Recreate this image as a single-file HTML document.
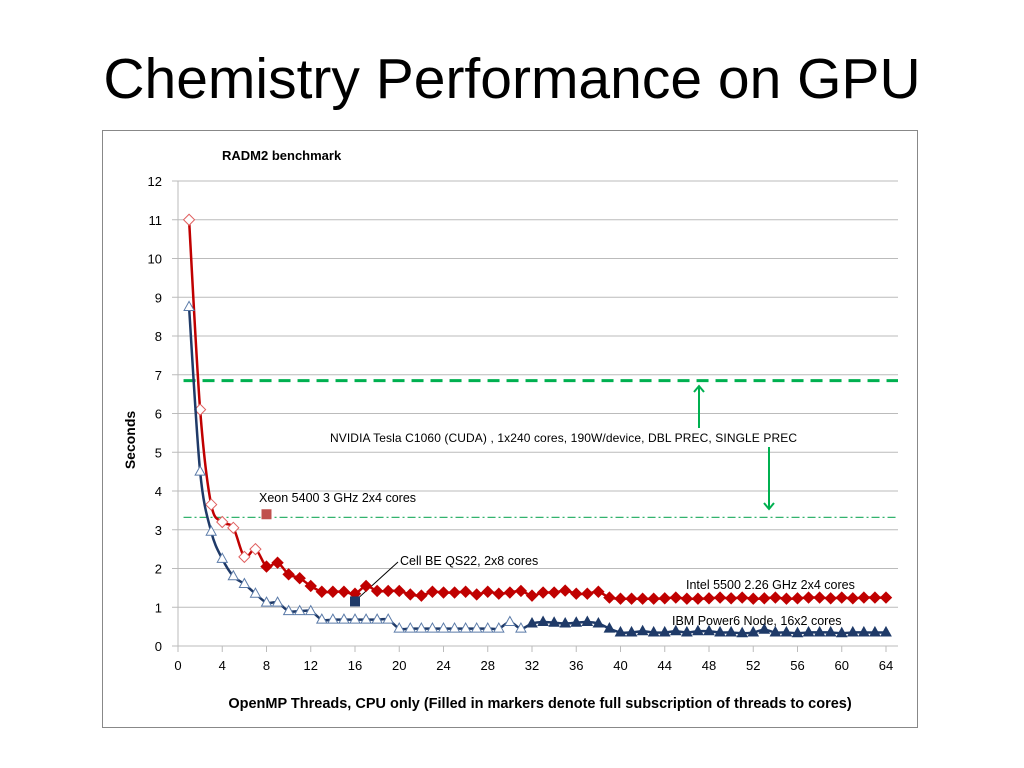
<!DOCTYPE html>
<html><head><meta charset="utf-8"><style>
body{margin:0;width:1024px;height:768px;background:#fff;overflow:hidden;font-family:"Liberation Sans",sans-serif}
#title{position:absolute;left:0;width:1024px;top:46px;text-align:center;font-size:57px;color:#000}
svg{position:absolute;left:0;top:0}
</style></head><body>
<div id="title">Chemistry Performance on GPU</div>
<svg id="chart" width="1024" height="768"></svg>
<script>
const xTicks=[0,4,8,12,16,20,24,28,32,36,40,44,48,52,56,60,64];
const yTicks=[0,1,2,3,4,5,6,7,8,9,10,11,12];
const intelX=[];for(let i=1;i<=64;i++)intelX.push(i);
const intelY=[11,6.1,3.65,3.2,3.05,2.3,2.5,2.05,2.15,1.85,1.75,1.55,1.4,1.4,1.4,1.35,1.55,1.42,1.42,1.42,1.33,1.3,1.4,1.38,1.38,1.4,1.33,1.4,1.35,1.38,1.42,1.3,1.38,1.38,1.43,1.35,1.35,1.4,1.25,1.22,1.22,1.22,1.22,1.23,1.25,1.22,1.22,1.23,1.25,1.23,1.25,1.22,1.23,1.25,1.22,1.23,1.25,1.25,1.23,1.25,1.23,1.25,1.25,1.25];
const intelFilledFrom=8;
const ibmY=[8.75,4.5,2.95,2.25,1.8,1.6,1.35,1.12,1.12,0.9,0.9,0.9,0.68,0.68,0.68,0.68,0.68,0.68,0.68,0.45,0.45,0.45,0.45,0.45,0.45,0.45,0.45,0.45,0.45,0.62,0.45,0.58,0.62,0.6,0.58,0.6,0.62,0.58,0.45,0.35,0.35,0.38,0.35,0.35,0.38,0.35,0.38,0.38,0.35,0.35,0.33,0.35,0.42,0.35,0.35,0.33,0.35,0.35,0.35,0.33,0.35,0.35,0.35,0.35];
const ibmFilledFrom=32;
const gpuDbl=6.85, gpuSingle=3.32;
const xeon=[8,3.4], cell=[16,1.15];
const NS="http://www.w3.org/2000/svg";
const svg=document.getElementById('chart');
const X0=178,X1=886,Y0=646,Y1=181;
const sx=v=>X0+(X1-X0)*v/64, sy=v=>Y0-(Y0-Y1)*v/12;
function el(t,a,p){const e=document.createElementNS(NS,t);for(const k in a)e.setAttribute(k,a[k]);(p||svg).appendChild(e);return e;}
function txt(x,y,s,a){const e=el('text',Object.assign({x:x,y:y,'font-family':'Liberation Sans, sans-serif','font-size':12,fill:'#000'},a||{}));e.textContent=s;return e;}
const frame=el('rect',{x:102.5,y:130.5,width:815,height:597,fill:'#fff',stroke:'#888'});

yTicks.forEach(v=>{const g=el('line',{x1:172,x2:898,y1:sy(v),y2:sy(v),stroke:'#bbb'});

const t=txt(162,sy(v)+5,String(v),{'text-anchor':'end','font-size':13});
});
el('line',{x1:X0,x2:X0,y1:Y1,y2:Y0+6,stroke:'#bbb'});
xTicks.forEach(v=>{el('line',{x1:sx(v),x2:sx(v),y1:Y0,y2:Y0+6,stroke:'#bbb'});
const t=txt(sx(v),Y0+24,String(v),{'text-anchor':'middle','font-size':13});
});
let t=txt(222,160,'RADM2 benchmark',{'font-weight':'bold','font-size':13});
t=txt(540,708,'OpenMP Threads, CPU only (Filled in markers denote full subscription of threads to cores)',{'text-anchor':'middle','font-weight':'bold','font-size':14.5});
t=txt(0,0,'Seconds',{'font-weight':'bold','font-size':14,'text-anchor':'middle',transform:'translate(135,440) rotate(-90)'});
let l=el('line',{x1:sx(0.5),x2:898,y1:sy(gpuDbl),y2:sy(gpuDbl),stroke:'#00b050','stroke-width':3,'stroke-dasharray':'12,7'});

l=el('line',{x1:sx(0.5),x2:898,y1:sy(gpuSingle),y2:sy(gpuSingle),stroke:'#33b36e','stroke-width':1.3,'stroke-dasharray':'8,3,2,3'});

function arrow(x,y1,y2,name){const g=el('g',{stroke:'#00b050','stroke-width':2,fill:'none'});
el('line',{x1:x,x2:x,y1:y1,y2:y2},g);const d=y2<y1?6:-6;el('polyline',{points:`${x-5},${y2+d} ${x},${y2} ${x+5},${y2+d}`},g);}
arrow(699,428,386,'dbl-prec-arrow');arrow(769,447,509,'single-prec-arrow');
t=txt(330,442,'NVIDIA Tesla C1060 (CUDA) , 1x240 cores, 190W/device,   DBL PREC,  SINGLE PREC',{textLength:467});
t=txt(259,502,'Xeon 5400  3 GHz  2x4 cores',{'font-size':12.5});
t=txt(400,565,'Cell BE QS22, 2x8 cores',{'font-size':12.5});
t=txt(686,589,'Intel 5500 2.26 GHz 2x4 cores',{'font-size':12.5});
t=txt(672,625,'IBM Power6  Node, 16x2 cores',{'font-size':12.5});
el('line',{x1:398,y1:562,x2:sx(cell[0])+4,y2:sy(cell[1])-4,stroke:'#000'});
function smooth(p){let d=`M${p[0][0]},${p[0][1]}`;for(let i=0;i<p.length-1;i++){const a=p[i-1]||p[i],b=p[i],c=p[i+1],e=p[i+2]||c;const k=0.16;
d+=` C${b[0]+(c[0]-a[0])*k},${b[1]+(c[1]-a[1])*k} ${c[0]-(e[0]-b[0])*k},${c[1]-(e[1]-b[1])*k} ${c[0]},${c[1]}`;}return d;}
function series(ys,col,filledFrom,shape,name){
const pts=ys.map((v,i)=>[sx(intelX[i]),sy(v)]);
const p=el('path',{d:smooth(pts),fill:'none',stroke:col,'stroke-width':2.5});
ys.forEach((v,i)=>{const x=sx(intelX[i]),y=sy(v),f=intelX[i]>=filledFrom;let m;
if(shape==='d')m=el('polygon',{points:`${x},${y-5.5} ${x+5.5},${y} ${x},${y+5.5} ${x-5.5},${y}`,fill:f?col:'#fff',stroke:f?col:'#e06060'});
else m=el('polygon',{points:`${x},${y-5.5} ${x+5},${y+3.5} ${x-5},${y+3.5}`,fill:f?col:'#fff',stroke:f?col:'#5a7aa8'});
});}
series(intelY,'#c00000',intelFilledFrom,'d','intel-series');
series(ibmY,'#1f3a68',ibmFilledFrom,'t','ibm-series');
let s=el('rect',{x:sx(xeon[0])-5,y:sy(xeon[1])-5,width:10,height:10,fill:'#c0504d'});
s=el('rect',{x:sx(cell[0])-5,y:sy(cell[1])-5,width:10,height:10,fill:'#1f3a68'});
</script>
</body></html>
